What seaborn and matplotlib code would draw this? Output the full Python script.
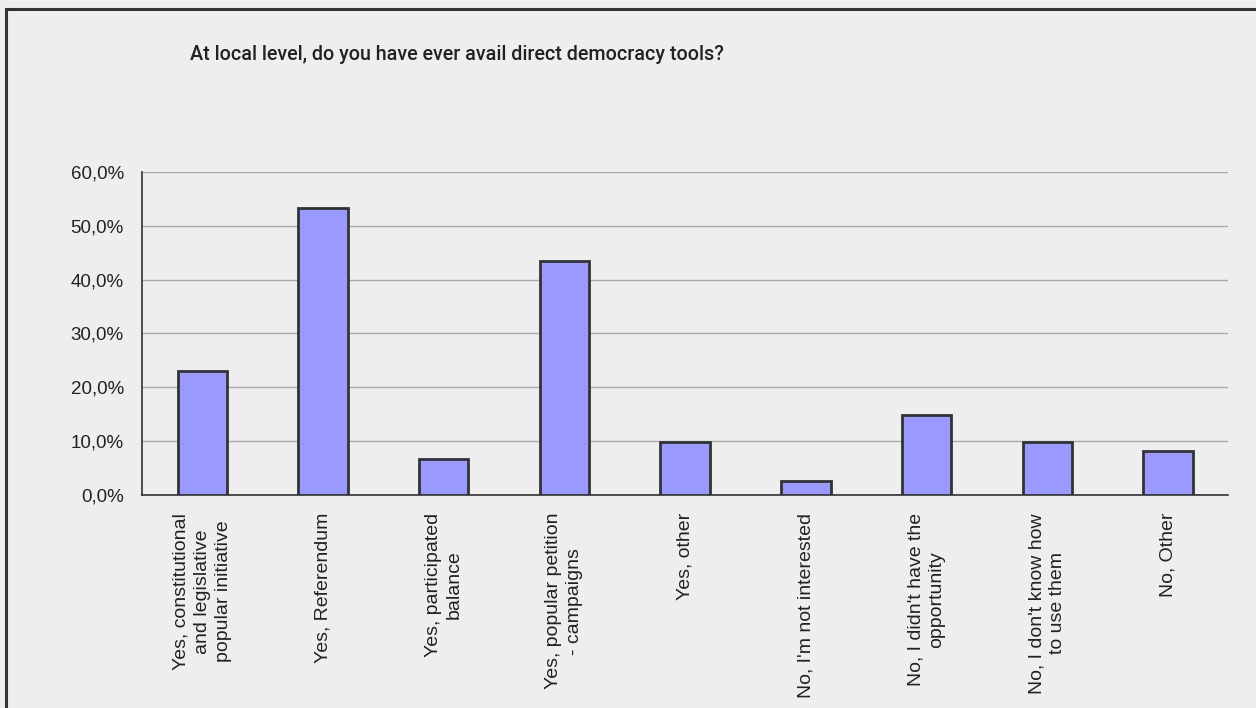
import pandas as pd
import matplotlib.pyplot as plt
import seaborn as sns
from matplotlib.patches import Rectangle
from matplotlib.ticker import FixedLocator

answers = [
    "Yes, constitutional\nand legislative\npopular initiative",
    "Yes, Referendum",
    "Yes, participated\nbalance",
    "Yes, popular petition\n- campaigns",
    "Yes, other",
    "No, I'm not interested",
    "No, I didn't have the\nopportunity",
    "No, I don't know how\nto use them",
    "No, Other",
]
share = [23.0, 53.3, 6.6, 43.5, 9.9, 2.6, 14.9, 9.9, 8.2]
y_ticks = [0, 10, 20, 30, 40, 50, 60]
y_labels = ["0,0%", "10,0%", "20,0%", "30,0%", "40,0%", "50,0%", "60,0%"]
title = "At local level, do you have ever avail direct democracy tools?"

df = pd.DataFrame({"answer": answers, "share": share})

sns.set_style("white")
plt.rcParams['font.family'] = ['Liberation Sans', 'DejaVu Sans']

bg = "#eeeeee"
fig = plt.figure(figsize=(12.56, 7.08), dpi=100, facecolor=bg)
ax = fig.add_axes([0.113, 0.301, 0.865, 0.456])
ax.set_facecolor(bg)

sns.barplot(data=df, x="answer", y="share", color="#9999ff", edgecolor="#333333",
            linewidth=2, width=0.41, saturation=1, ax=ax, zorder=3)

ax.set_ylim(0, 60)
ax.set_xlim(-0.5, len(answers) - 0.5)
ax.set_yticks(y_ticks)
ax.set_yticklabels(y_labels, fontsize=13.5, color="#222222")
ax.yaxis.grid(True, color="#aaaaaa", linewidth=1, zorder=0)
ax.set_axisbelow(True)

# category ticks sit on the boundaries between bars
ax.xaxis.set_minor_locator(FixedLocator([i - 0.5 for i in range(len(answers) + 1)]))
ax.tick_params(axis="x", which="major", length=0, pad=13)
ax.tick_params(axis="x", which="minor", length=5, color="#aaaaaa", width=1)
ax.tick_params(axis="y", length=4, color="#aaaaaa", pad=9)
for lab in ax.get_xticklabels():
    lab.set_rotation(90)
    lab.set_ha("center")
    lab.set_va("top")
    lab.set_multialignment("center")
    lab.set_fontsize(14)
    lab.set_linespacing(1.3)
    lab.set_color("#222222")

ax.set_xlabel("")
ax.set_ylabel("")
for side in ["top", "right"]:
    ax.spines[side].set_visible(False)
for side in ["left", "bottom"]:
    ax.spines[side].set_color("#333333")
    ax.spines[side].set_linewidth(1.2)

fig.text(190 / 1256, 1 - 55 / 708, title, fontsize=14.2, color="#222222", va="center", ha="left",
         family=["Roboto", "DejaVu Sans"], fontweight="medium")

# frame of the chart area, cut by the image edge
fig.patches.append(Rectangle((6 / 1256, -0.05), 1.1, 1 - 9 / 708 + 0.05, transform=fig.transFigure,
                             fill=False, edgecolor="#333333", linewidth=2.2))

fig.savefig("out.png", dpi=100, facecolor=bg)
